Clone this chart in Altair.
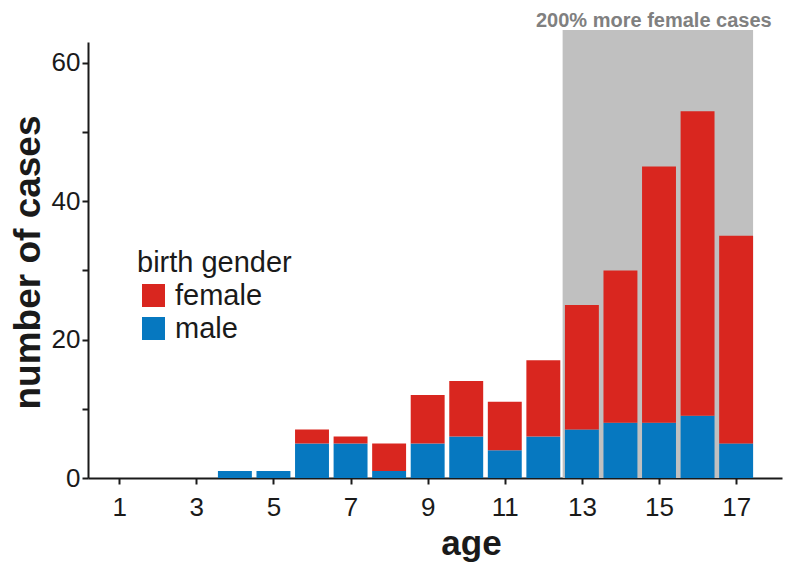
import altair as alt
import pandas as pd

ages = [4, 5, 6, 7, 8, 9, 10, 11, 12, 13, 14, 15, 16, 17]
male = [1, 1, 5, 5, 1, 5, 6, 4, 6, 7, 8, 8, 9, 5]
female = [0, 0, 2, 1, 4, 7, 8, 7, 11, 18, 22, 37, 44, 30]
genders = ["female", "male"]
colors = ["#D9261F", "#0678C0"]
highlight = [12.5, 17.44]
note = "200% more female cases"

rows = []
for a, m, f in zip(ages, male, female):
    rows.append({"age": a, "gender": "male", "y0": 0, "y1": m})
    rows.append({"age": a, "gender": "female", "y0": m, "y1": m + f})
df = pd.DataFrame(rows)
df["xl"] = df["age"] - 0.44
df["xr"] = df["age"] + 0.44

font = "Liberation Sans"
PW, PH = 694, 436
xscale = alt.Scale(domain=[0.19, 18.19], nice=False, zero=False)
yscale = alt.Scale(domain=[0, 63], nice=False)

hl = pd.DataFrame({"x": [highlight[0]], "x2": [highlight[1]],
                   "xm": [(highlight[0] + highlight[1]) / 2], "t": [note]})

rect = alt.Chart(hl).mark_rect(color="#C0C0C0", clip=False).encode(
    x=alt.X("x:Q", scale=xscale),
    x2="x2:Q",
    y=alt.value(-12),
    y2=alt.value(PH),
)

txt = alt.Chart(hl).mark_text(
    font=font, fontSize=20, fontWeight="bold", color="#808080",
    baseline="alphabetic", align="center", clip=False, dx=-4
).encode(
    x=alt.X("xm:Q", scale=xscale),
    y=alt.value(-15),
    text="t:N",
)

bars = alt.Chart(df).mark_bar(strokeWidth=0).encode(
    x=alt.X("xl:Q", scale=xscale,
            axis=alt.Axis(values=[1, 3, 5, 7, 9, 11, 13, 15, 17], title="age",
                          grid=False, tickSize=6, tickWidth=2, domainWidth=2,
                          domainColor="#1a1a1a", tickColor="#1a1a1a",
                          labelFont=font, labelFontSize=26, labelColor="#1a1a1a",
                          labelPadding=10,
                          titleFont=font, titleFontSize=35, titleFontWeight="bold",
                          titleColor="#1a1a1a", titleX=383, titleY=76,
                          titleBaseline="alphabetic", titleAlign="center")),
    x2="xr:Q",
    y=alt.Y("y0:Q", scale=yscale,
            axis=alt.Axis(values=[0, 10, 20, 30, 40, 50, 60], title="number of cases",
                          labelExpr="datum.value % 20 == 0 ? datum.label : ''",
                          grid=False, tickSize=6, tickWidth=2, domainWidth=2,
                          domainColor="#1a1a1a", tickColor="#1a1a1a",
                          labelFont=font, labelFontSize=26, labelColor="#1a1a1a",
                          labelPadding=2,
                          titleFont=font, titleFontSize=37, titleFontWeight="bold",
                          titleColor="#1a1a1a", titleX=-49, titleY=220,
                          titleBaseline="alphabetic", titleAlign="center", titleAngle=-90)),
    y2="y1:Q",
    color=alt.Color("gender:N", scale=alt.Scale(domain=genders, range=colors),
                    legend=alt.Legend(title="birth gender", orient="none",
                                      legendX=49, legendY=207,
                                      titleFont=font, titleFontSize=29, titleFontWeight="normal",
                                      titleColor="#1a1a1a", titlePadding=3,
                                      labelFont=font, labelFontSize=29, labelColor="#1a1a1a",
                                      symbolType="square", symbolSize=529, symbolStrokeWidth=0,
                                      symbolOpacity=1, labelOffset=7, symbolOffset=2,
                                      rowPadding=3)),
)

chart = alt.layer(rect, txt, bars).properties(
    width=PW, height=PH,
    background="white",
    autosize=alt.AutoSizeParams(type="none"),
    padding={"left": 80, "top": 34, "right": 2, "bottom": 84},
).configure_view(stroke=None, strokeWidth=0)

chart.save("out.html", embed_options={"renderer": "svg", "actions": False})
